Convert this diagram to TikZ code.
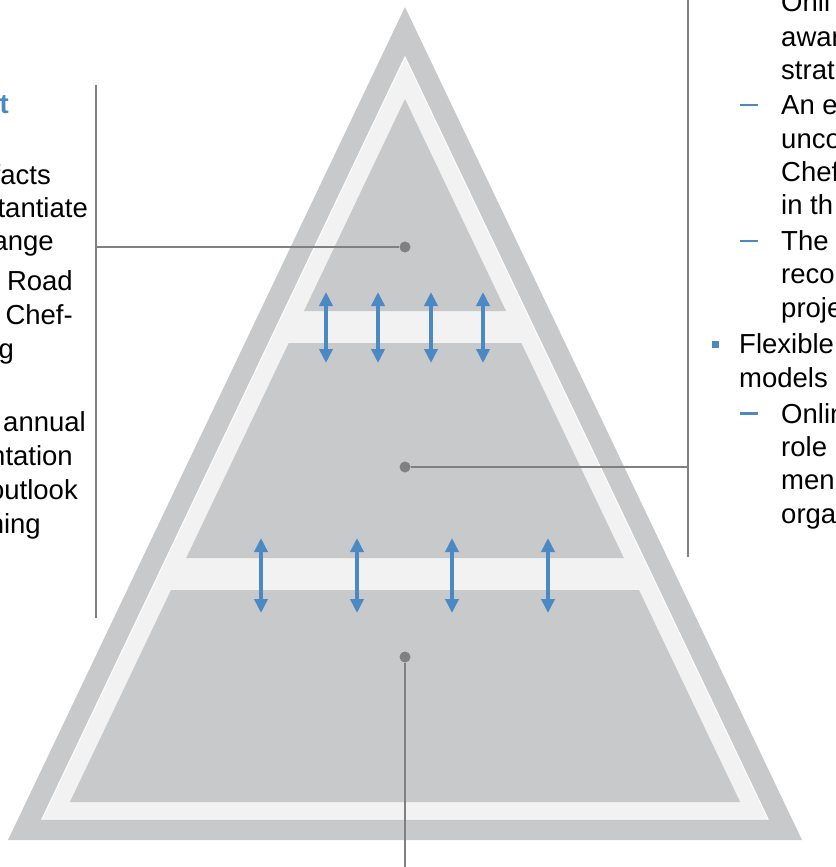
\documentclass[tikz,border=0pt]{standalone}
\usepackage{fontspec}
\setmainfont{Liberation Sans}
\usetikzlibrary{arrows.meta}
\definecolor{pyrgray}{RGB}{200,201,203}
\definecolor{bandgray}{RGB}{242,242,242}
\definecolor{accent}{RGB}{74,137,195}
\definecolor{linkgray}{RGB}{128,128,128}
\begin{document}
\begin{tikzpicture}[x=1pt,y=-1pt,
  pyr/.style={fill=pyrgray},
  band/.style={fill=bandgray,draw=white,line width=1pt},
  dot/.style={circle,fill=linkgray,inner sep=0pt,minimum size=11pt},
  link/.style={draw=linkgray,line width=1.5pt},
  flow/.style={draw=accent,line width=4pt,
    {Triangle[width=13pt,length=14pt]}-{Triangle[width=13pt,length=14pt]}},
  txt/.style={font=\fontsize{27.5}{33}\selectfont,inner sep=0pt,text=black},
  lefttxt/.style={txt,anchor=base east},
  righttxt/.style={txt,anchor=base west},
  subdash/.style={draw=accent,line width=2.5pt},
  sqbullet/.style={fill=accent,inner sep=0pt,minimum size=7pt}]
\useasboundingbox (0,0) rectangle (835,867);
\clip (0,0) rectangle (835,867);

% pyramid: outer shell, light band, three inner tiers
\fill[pyr] (405,7) -- (802,840) -- (8,840) -- cycle;
\filldraw[band] (405,57) -- (768,819) -- (42,819) -- cycle;
\fill[pyr] (405,99) -- (506,311) -- (304,311) -- cycle;
\fill[pyr] (288.7,343) -- (521.3,343) -- (623.8,558) -- (186.2,558) -- cycle;
\fill[pyr] (171,590) -- (639,590) -- (740.1,802) -- (69.9,802) -- cycle;

% two-way arrows between tiers
\foreach \x [count=\i] in {326,378,431,483} {
  \coordinate (ua\i) at (\x,292);
  \coordinate (ub\i) at (\x,363);
  \draw[flow] (ua\i) -- (ub\i);
}
\foreach \x [count=\i] in {261,357,452,548} {
  \coordinate (la\i) at (\x,538);
  \coordinate (lb\i) at (\x,613);
  \draw[flow] (la\i) -- (lb\i);
}

% tier markers and leader lines
\node[dot] (d1) at (405,247) {};
\node[dot] (d2) at (405,467) {};
\node[dot] (d3) at (405,657) {};

\coordinate (lbt) at (96,85);
\coordinate (lbb) at (96,618);
\coordinate (lbm) at (96,247);
\coordinate (rbt) at (688,0);
\coordinate (rbb) at (688,557);
\coordinate (rbm) at (688,467);
\coordinate (bbe) at (405,867);

\draw[link] (lbt) -- (lbb);
\draw[link] (rbt) -- (rbb);
\draw[link] (d1) -- (lbm);
\draw[link] (d2) -- (rbm);
\draw[link] (d3) -- (bbe);

% left column
\node[lefttxt,text=accent,font=\fontsize{27.5}{33}\selectfont\bfseries] (lh) at (9,113) {t};
\node[lefttxt] (l1) at (51,184) {facts};
\node[lefttxt] (l2) at (88,217) {tantiate};
\node[lefttxt] (l3) at (54,250) {ange};
\node[lefttxt] (l4) at (73,290) {Road};
\node[lefttxt] (l5) at (73,324) {Chef-};
\node[lefttxt] (l6) at (14,358) {g};
\node[lefttxt] (l7) at (86,431) {annual};
\node[lefttxt] (l8) at (73,465) {ntation};
\node[lefttxt] (l9) at (78,499) {outlook};
\node[lefttxt] (l10) at (41,533) {hing};

% right column
\node[righttxt] (r1) at (781,12) {Onli};
\node[righttxt] (r2) at (781,47) {awar};
\node[righttxt] (r3) at (781,80) {strat};
\coordinate (s1a) at (740,105);
\coordinate (s1b) at (758,105);
\draw[subdash] (s1a) -- (s1b);
\node[righttxt] (r4) at (781,114.5) {An e};
\node[righttxt] (r5) at (781,148) {unco};
\node[righttxt] (r6) at (781,181.5) {Chef};
\node[righttxt] (r7) at (781,214.5) {in th};
\coordinate (s2a) at (740,241);
\coordinate (s2b) at (758,241);
\draw[subdash] (s2a) -- (s2b);
\node[righttxt] (r8) at (781,250.5) {The};
\node[righttxt] (r9) at (781,283.5) {reco};
\node[righttxt] (r10) at (781,317) {proje};
\node[sqbullet] (q1) at (715.5,344) {};
\node[righttxt] (r11) at (739,353) {Flexible};
\node[righttxt] (r12) at (739,387) {models};
\coordinate (s3a) at (740,413.5);
\coordinate (s3b) at (758,413.5);
\draw[subdash] (s3a) -- (s3b);
\node[righttxt] (r13) at (781,423) {Onlin};
\node[righttxt] (r14) at (781,456) {role};
\node[righttxt] (r15) at (781,489.5) {men};
\node[righttxt] (r16) at (781,523) {orga};
\end{tikzpicture}
\end{document}
